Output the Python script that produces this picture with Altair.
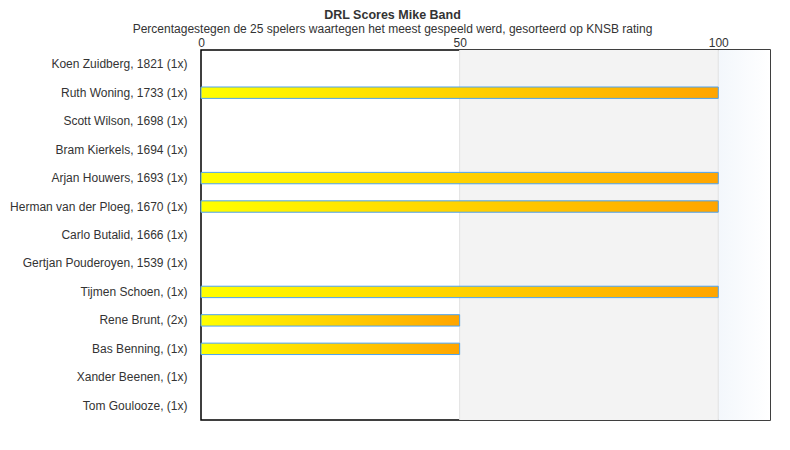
import altair as alt
import pandas as pd

names = [
    "Koen Zuidberg, 1821 (1x)",
    "Ruth Woning, 1733 (1x)",
    "Scott Wilson, 1698 (1x)",
    "Bram Kierkels, 1694 (1x)",
    "Arjan Houwers, 1693 (1x)",
    "Herman van der Ploeg, 1670 (1x)",
    "Carlo Butalid, 1666 (1x)",
    "Gertjan Pouderoyen, 1539 (1x)",
    "Tijmen Schoen,  (1x)",
    "Rene Brunt,  (2x)",
    "Bas Benning,  (1x)",
    "Xander Beenen,  (1x)",
    "Tom Goulooze,  (1x)",
]
values = [0, 100, 0, 0, 100, 100, 0, 0, 100, 50, 50, 0, 0]
tick_values = [0, 50, 100]
x_max = 110

df = pd.DataFrame({"name": names, "value": values})
xscale = alt.Scale(domain=[0, x_max], nice=False, zero=True)
yscale = alt.Scale(domain=names, paddingInner=0.6, paddingOuter=0.3)

xaxis = alt.Axis(orient="top", values=tick_values, grid=False, ticks=False, domain=False,
                 labelFont="Liberation Sans", labelFontSize=12, labelColor="#333333", labelPadding=1,
                 labelFlush=False, title=None)
yaxis = alt.Axis(ticks=False, domain=False, labelFont="Liberation Sans", labelFontSize=12,
                 labelColor="#333333", labelPadding=14, labelLimit=300, title=None)

band_gray = alt.Chart(pd.DataFrame({"a": [50], "b": [100]})).mark_rect(color="#f3f3f3").encode(
    x=alt.X("a:Q", scale=xscale, axis=xaxis), x2="b:Q"
)
band_blue = alt.Chart(pd.DataFrame({"a": [100], "b": [110]})).mark_rect(
    color=alt.Gradient(
        gradient="linear",
        stops=[alt.GradientStop(color="#f3f7fc", offset=0), alt.GradientStop(color="#ffffff", offset=1)],
        x1=0, x2=1, y1=0, y2=0,
    )
).encode(x=alt.X("a:Q", scale=xscale, axis=xaxis), x2="b:Q")
grid = alt.Chart(pd.DataFrame({"v": [50, 100]})).mark_rule(color="#e2e2e2", strokeWidth=1).encode(
    x=alt.X("v:Q", scale=xscale, axis=xaxis)
)

rows = alt.Chart(df).mark_point(opacity=0).encode(
    y=alt.Y("name:N", scale=yscale, sort=names, axis=yaxis),
    x=alt.X("value:Q", scale=xscale, axis=xaxis),
)

bars = alt.Chart(df).transform_filter("datum.value > 0").mark_bar(
    color=alt.Gradient(
        gradient="linear",
        stops=[alt.GradientStop(color="#ffff00", offset=0), alt.GradientStop(color="#ffa500", offset=1)],
        x1=0, x2=1, y1=0, y2=0,
    ),
    stroke="#4da3f0",
    strokeWidth=1,
).encode(
    x=alt.X("value:Q", scale=xscale, axis=xaxis),
    y=alt.Y("name:N", scale=yscale, sort=names, axis=yaxis),
)

chart = alt.layer(band_gray, band_blue, grid, rows, bars).properties(
    width=569,
    height=370,
    title=alt.TitleParams(
        text="DRL Scores Mike Band",
        subtitle="Percentagestegen de 25 spelers waartegen het meest gespeeld werd, gesorteerd op KNSB rating",
        anchor="middle",
        dx=-93,
        font="Liberation Sans",
        fontSize=12.5,
        fontWeight="bold",
        color="#333333",
        subtitleFont="Liberation Sans",
        subtitleFontSize=12,
        subtitleColor="#333333",
        subtitlePadding=3,
        offset=1,
    ),
    autosize=alt.AutoSizeParams(type="none"),
    padding={"left": 193, "top": 42, "right": 12, "bottom": 20},
).configure_view(stroke="#000000", strokeWidth=1.5)

chart.save("out.html", embed_options={"renderer": "svg", "actions": False})
